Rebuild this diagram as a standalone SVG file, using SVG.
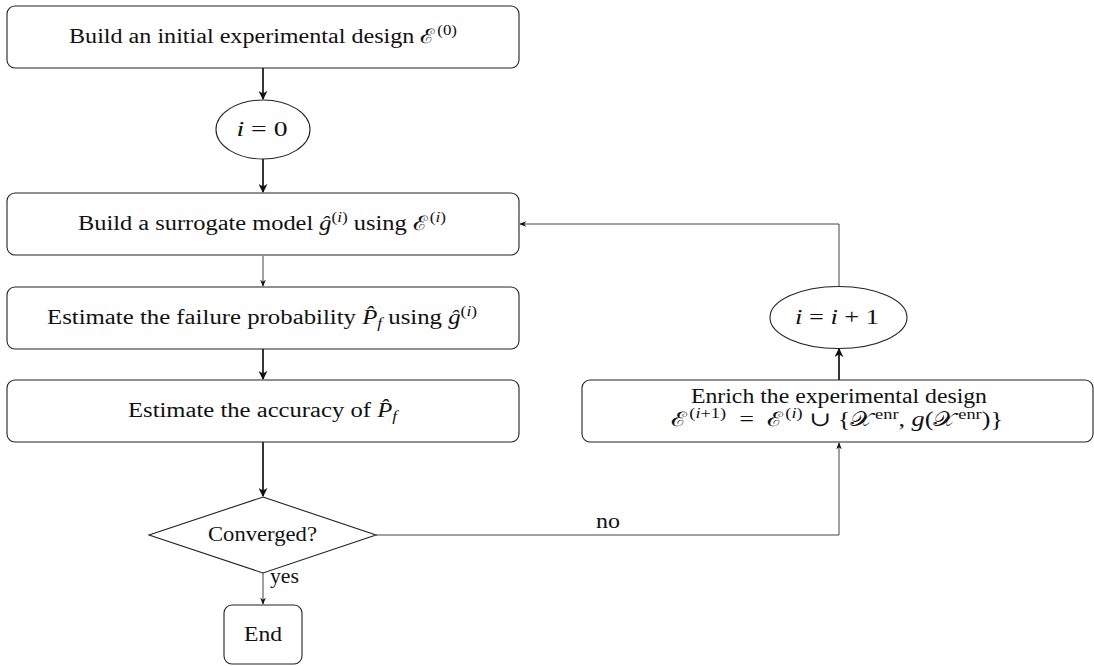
<svg xmlns="http://www.w3.org/2000/svg" width="1094" height="666" viewBox="0 0 1094 666">
<style>
.node{fill:#fff;stroke:#222;stroke-width:1.1}
text{font-family:"Liberation Serif","DejaVu Serif",serif;font-size:20px;fill:#111;text-anchor:middle}
.m{font-style:italic}
.sup{font-size:14px}
.thick{stroke:#111;stroke-width:1.7;fill:none}
.thin{stroke:#444;stroke-width:1;fill:none}
</style>
<defs>
<marker id="ahs" viewBox="0 0 10 10" refX="9" refY="5" markerWidth="7" markerHeight="7" orient="auto" markerUnits="userSpaceOnUse">
<path d="M0,1 L10,5 L0,9 L3,5 z" fill="#111"/>
</marker>
<marker id="ahb" viewBox="0 0 10 10" refX="9" refY="5" markerWidth="9" markerHeight="9" orient="auto" markerUnits="userSpaceOnUse">
<path d="M0,0 L10,5 L0,10 L3,5 z" fill="#111"/>
</marker>
</defs>

<g id="connectors">
<line class="thick" x1="263" y1="68" x2="263" y2="99" marker-end="url(#ahb)"/>
<line class="thick" x1="263" y1="159" x2="263" y2="192" marker-end="url(#ahb)"/>
<line class="thin" x1="263" y1="256" x2="263" y2="286" marker-end="url(#ahs)"/>
<line class="thick" x1="263" y1="349" x2="263" y2="379" marker-end="url(#ahb)"/>
<line class="thick" x1="263" y1="442" x2="263" y2="496" marker-end="url(#ahb)"/>
<line class="thin" x1="263" y1="573" x2="263" y2="604" marker-end="url(#ahs)"/>
<polyline class="thin" points="376,535 839,535 839,443" marker-end="url(#ahs)"/>
<line class="thick" x1="839" y1="380" x2="839" y2="349" marker-end="url(#ahb)"/>
<polyline class="thin" points="839,286 839,224 520,224" marker-end="url(#ahs)"/>
<text x="608" y="528" textLength="24" lengthAdjust="spacingAndGlyphs">no</text>
<text x="284.5" y="583" textLength="29" lengthAdjust="spacingAndGlyphs">yes</text>
</g>

<g id="n-init">
<rect class="node" x="7" y="6" width="512" height="62" rx="8"/>
<text x="263" y="43" textLength="388" lengthAdjust="spacingAndGlyphs">Build an initial experimental design ℰ<tspan class="sup" dx="2" dy="-8">(0)</tspan></text>
</g>

<g id="n-i0">
<ellipse class="node" cx="263" cy="129.5" rx="47" ry="29.5"/>
<text x="262" y="136" textLength="51" lengthAdjust="spacingAndGlyphs"><tspan class="m">i</tspan> = 0</text>
</g>

<g id="n-surrogate">
<rect class="node" x="7" y="193" width="512" height="62" rx="8"/>
<text x="262" y="230" textLength="368" lengthAdjust="spacingAndGlyphs">Build a surrogate model <tspan class="m">ĝ</tspan><tspan class="sup" dy="-8">(<tspan class="m">i</tspan>)</tspan><tspan dy="8"> using </tspan>ℰ<tspan class="sup" dx="2" dy="-8">(<tspan class="m">i</tspan>)</tspan></text>
</g>

<g id="n-estimate">
<rect class="node" x="7" y="287" width="512" height="62" rx="8"/>
<text x="262" y="324" textLength="430" lengthAdjust="spacingAndGlyphs">Estimate the failure probability <tspan class="m">P̂</tspan><tspan class="sup m" dy="4">f</tspan><tspan dy="-4"> using </tspan><tspan class="m">ĝ</tspan><tspan class="sup" dy="-8">(<tspan class="m">i</tspan>)</tspan></text>
</g>

<g id="n-accuracy">
<rect class="node" x="7" y="380" width="512" height="62" rx="8"/>
<text x="262.5" y="417" textLength="269" lengthAdjust="spacingAndGlyphs">Estimate the accuracy of <tspan class="m">P̂</tspan><tspan class="sup m" dy="4">f</tspan></text>
</g>

<g id="n-converged">
<polygon class="node" points="263,497 376,535 263,573 149,535"/>
<text x="262.5" y="541" textLength="109" lengthAdjust="spacingAndGlyphs">Converged?</text>
</g>

<g id="n-end">
<rect class="node" x="224" y="605" width="78" height="59" rx="8"/>
<text x="263" y="641" textLength="38" lengthAdjust="spacingAndGlyphs">End</text>
</g>

<g id="n-enrich">
<rect class="node" x="582" y="380" width="511" height="62" rx="8"/>
<text x="839" y="403" textLength="296" lengthAdjust="spacingAndGlyphs">Enrich the experimental design</text>
<text x="837" y="426" textLength="332" lengthAdjust="spacingAndGlyphs">ℰ<tspan class="sup" dx="2" dy="-8">(<tspan class="m">i</tspan>+1)</tspan><tspan dy="8">&#160;&#160;=&#160;&#160;</tspan>ℰ<tspan class="sup" dx="2" dy="-8">(<tspan class="m">i</tspan>)</tspan><tspan dy="8"> ∪ {</tspan>𝒳<tspan class="sup" dx="2" dy="-7">enr</tspan><tspan dy="7">, </tspan><tspan class="m">g</tspan>(𝒳<tspan class="sup" dx="2" dy="-7">enr</tspan><tspan dy="7">)}</tspan></text>
</g>

<g id="n-inc">
<ellipse class="node" cx="838.5" cy="317.5" rx="68.5" ry="31"/>
<text x="837" y="324" textLength="84" lengthAdjust="spacingAndGlyphs"><tspan class="m">i</tspan> = <tspan class="m">i</tspan> + 1</text>
</g>
</svg>
